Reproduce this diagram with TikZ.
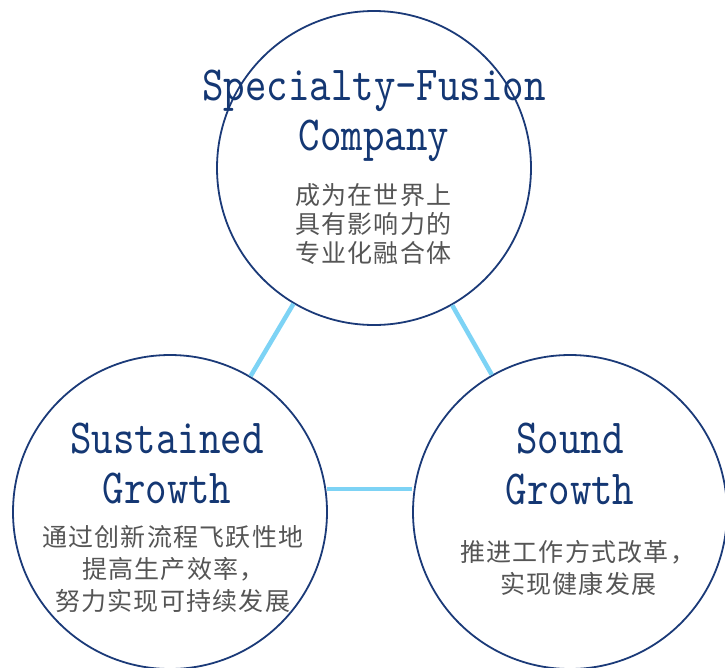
\documentclass[tikz,border=0pt]{standalone}
\usepackage{fontspec}
\newfontfamily\ttl{lmmono10-regular.otf}[FakeStretch=0.834]
\newfontfamily\cjkA{Noto Sans CJK SC}[LetterSpace=5]
\definecolor{navy}{RGB}{27,58,120}
\definecolor{titlec}{RGB}{20,55,115}
\definecolor{graytxt}{RGB}{85,85,85}
\definecolor{lblue}{RGB}{125,211,245}
\tikzset{
  ring/.style={circle,draw=navy,line width=1.8pt,minimum size=314pt,inner sep=0pt},
  conn/.style={draw=lblue,line width=4.5pt},
  ttext/.style={anchor=base,inner sep=0pt,text=titlec,font=\ttl\fontsize{49}{49}\selectfont},
  ctext/.style={anchor=base west,inner sep=0pt,text=graytxt,font=\cjkA\fontsize{25}{25}\selectfont}
}
\begin{document}
\begin{tikzpicture}[x=1pt,y=-1pt]
\useasboundingbox (0,0) rectangle (725,667);
\node[ring] (top) at (374,168) {};
\node[ring] (bl) at (170,512) {};
\node[ring] (br) at (570,512) {};
\draw[conn] (top) -- (bl);
\draw[conn] (top) -- (br);
\coordinate (hl) at (327,489);
\draw[conn] (hl) -- (hl -| br.west);
% top
\node[ttext] (t1) at (374,100) {Specialty-Fusion};
\node[ttext] (t2) at (374,150) {Company};
\node[ctext] (t3) at (295,204.5) {成为在世界上};
\node[ctext] (t4) at (295,233.5) {具有影响力的};
\node[ctext] (t5) at (295,262.5) {专业化融合体};
% bottom left
\node[ttext] (l1) at (167,453) {Sustained};
\node[ttext] (l2) at (167,503) {Growth};
\node[ctext] (l3) at (42,546) {通过创新流程飞跃性地};
\node[ctext] (l4) at (82,578) {提高生产效率，};
\node[ctext] (l5) at (55,610) {努力实现可持续发展};
% bottom right
\node[ttext] (r1) at (570,453) {Sound};
\node[ttext] (r2) at (570,504) {Growth};
\node[ctext] (r3) at (460,561) {推进工作方式改革，};
\node[ctext] (r4) at (500,593) {实现健康发展};
\end{tikzpicture}
\end{document}
